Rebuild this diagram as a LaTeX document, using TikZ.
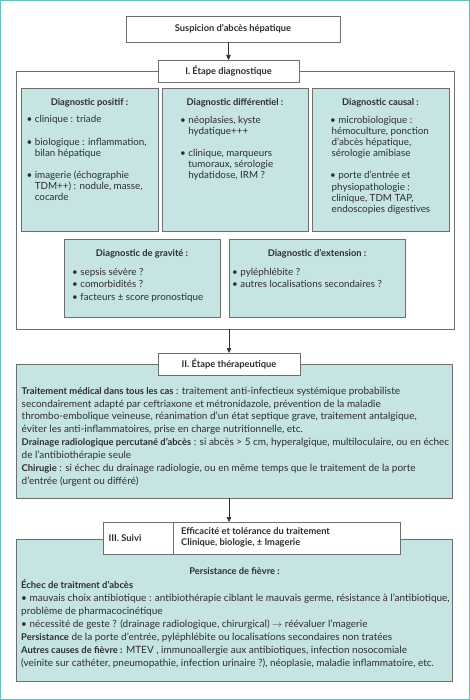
\documentclass[tikz,border=0pt]{standalone}
\usepackage{fontspec}
\setmainfont{Lato}
\usetikzlibrary{arrows.meta}
\definecolor{tealfill}{HTML}{C5E4E2}
\definecolor{tealline}{HTML}{5EC3B9}
\definecolor{boxline}{HTML}{6E6E6E}
\definecolor{txt}{HTML}{2E2E2E}
\newcommand{\bu}{•\ }
\newcommand{\ct}{\hphantom{•\ }}
\newcommand{\bB}[1]{{\fontsize{9.4}{12.85}\selectfont\bfseries #1}}
\newcommand{\bD}[1]{{\fontsize{9.4}{13.1}\selectfont\bfseries #1}}
\begin{document}
\begin{tikzpicture}[x=1pt,y=-1pt,
  frame/.style={draw=boxline,line width=0.7pt,rectangle,inner sep=0pt,outer sep=0pt},
  tealbox/.style={frame,fill=tealfill},
  whitebox/.style={frame,fill=white},
  hd/.style={font=\fontsize{9.3}{11}\selectfont\bfseries,text=txt,inner sep=0pt},
  bodyA/.style={anchor=base west,align=left,inner sep=0pt,text=txt,font=\fontsize{9.8}{11.1}\selectfont},
  bodyB/.style={bodyA,font=\fontsize{9.8}{12.8}\selectfont},
  bodyC/.style={bodyA,font=\fontsize{10}{12.85}\selectfont},
  bodyD/.style={bodyA,font=\fontsize{10}{13.1}\selectfont},
  bodyE/.style={bodyA,font=\fontsize{9.3}{11}\selectfont\bfseries},
  arr/.style={-{Triangle[length=5pt,width=4.5pt]},draw=txt,line width=0.6pt}]
\useasboundingbox (0,0) rectangle (470,700);
\draw[tealline,line width=1.4pt] (0.7,0.7) rectangle (469.3,699.3);

% top
\node[whitebox,hd,minimum width=214pt,minimum height=26pt] (susp) at (233,29) {Suspicion d’abcès hépatique};

% diagnostic section
\node[frame,minimum width=438pt,minimum height=258pt] (diagframe) at (235,200) {};
\node[whitebox,hd,minimum width=141pt,minimum height=22pt] (diagtitle) at (228.5,71) {I. Étape diagnostique};

\node[tealbox,minimum width=137pt,minimum height=143pt] (pos) at (89.5,159.5) {};
\node[tealbox,minimum width=146pt,minimum height=143pt] (diff) at (235,159.5) {};
\node[tealbox,minimum width=137pt,minimum height=143pt] (caus) at (380.5,159.5) {};
\node[tealbox,minimum width=156pt,minimum height=78pt] (grav) at (142,278) {};
\node[tealbox,minimum width=176pt,minimum height=78pt] (ext) at (317,278) {};

% body texts are anchored at the baseline of their last line
\node[hd] (posh) at (89.5,102.5) {Diagnostic positif :};
\node[bodyA] (post) at (26.5,200.7) {\bu clinique : triade\\[11.1pt]\bu biologique : inflammation,\\\ct bilan hépatique\\[11.1pt]\bu imagerie (échographie\\\ct TDM++) : nodule, masse,\\\ct cocarde};

\node[hd] (diffh) at (235,103) {Diagnostic différentiel :};
\node[bodyA] (difft) at (180,179) {\bu néoplasies, kyste\\\ct hydatique+++\\[11.1pt]\bu clinique, marqueurs\\\ct tumoraux, sérologie\\\ct hydatidose, IRM ?};

\node[hd] (caush) at (380.5,103) {Diagnostic causal :};
\node[bodyA] (caust) at (330,212.3) {\bu microbiologique :\\\hspace*{1.5pt}hémoculture, ponction\\\hspace*{1.5pt}d’abcès hépatique,\\\hspace*{1.5pt}sérologie amibiase\\[11.1pt]\bu porte d’entrée et\\\hspace*{1.5pt}physiopathologie :\\\hspace*{1.5pt}clinique, TDM TAP,\\\hspace*{1.5pt}endoscopies digestives};

\node[hd] (gravh) at (142,254) {Diagnostic de gravité :};
\node[bodyB] (gravt) at (72,300.6) {\bu sepsis sévère ?\\\bu comorbidités ?\\\bu facteurs ± score pronostique};

\node[hd] (exth) at (317,254) {Diagnostic d’extension :};
\node[bodyB] (extt) at (232,287.8) {\bu pyléphlébite ?\\\bu autres localisations secondaires ?};

% therapeutic section
\node[tealbox,minimum width=436pt,minimum height=134pt] (therbox) at (234,431) {};
\node[whitebox,hd,minimum width=142pt,minimum height=22pt] (thertitle) at (229,364) {II. Étape thérapeutique};
\node[bodyC] (thert) at (21.5,484.15) {\bB{Traitement médical dans tous les cas} : traitement anti-infectieux systémique probabiliste\\secondairement adapté par ceftriaxone et métronidazole, prévention de la maladie\\thrombo-embolique veineuse, réanimation d’un état septique grave, traitement antalgique,\\éviter les anti-inflammatoires, prise en charge nutritionnelle, etc.\\\bB{Drainage radiologique percutané d’abcès} : si abcès > 5 cm, hyperalgique, multiloculaire, ou en échec\\de l’antibiothérapie seule\\\bB{Chirugie} : si échec du drainage radiologie, ou en même temps que le traitement de la porte\\d’entrée (urgent ou différé)};

% follow-up section
\node[tealbox,minimum width=436pt,minimum height=142pt] (suivbox) at (234,610) {};
\node[whitebox,minimum width=297pt,minimum height=32pt] (suivi) at (251.5,538) {};
\coordinate (dv) at (173,538);
\draw[boxline,line width=0.7pt] (suivi.north -| dv) -- (suivi.south -| dv);
\node[hd,anchor=west] (suivlab) at (108.5,538) {III. Suivi};
\node[bodyE] (suivr) at (181,545.8) {Efficacité et tolérance du traitement\\Clinique, biologie, ± Imagerie};

\node[hd] (persh) at (234.5,571) {Persistance de fièvre :};
\node[bodyD] (suivt) at (21,666.8) {\bD{Échec de traitment d’abcès}\\\bu mauvais choix antibiotique : antibiothérapie ciblant le mauvais germe, résistance à l’antibiotique,\\problème de pharmacocinétique\\\bu nécessité de geste ? (drainage radiologique, chirurgical) $\rightarrow$ réévaluer l’magerie\\\bD{Persistance} de la porte d’entrée, pyléphlébite ou localisations secondaires non tratées\\\bD{Autres causes de fièvre :} MTEV , immunoallergie aux antibiotiques, infection nosocomiale\\(veinite sur cathéter, pneumopathie, infection urinaire ?), néoplasie, maladie inflammatoire, etc.};

% connectors
\draw[arr] (susp.south -| diagtitle.north) -- (diagtitle.north);
\draw[arr] (diagframe.south -| thertitle.north) -- (thertitle.north);
\draw[arr] (therbox.south -| thertitle.north) -- (suivi.north -| thertitle.north);
\end{tikzpicture}
\end{document}
